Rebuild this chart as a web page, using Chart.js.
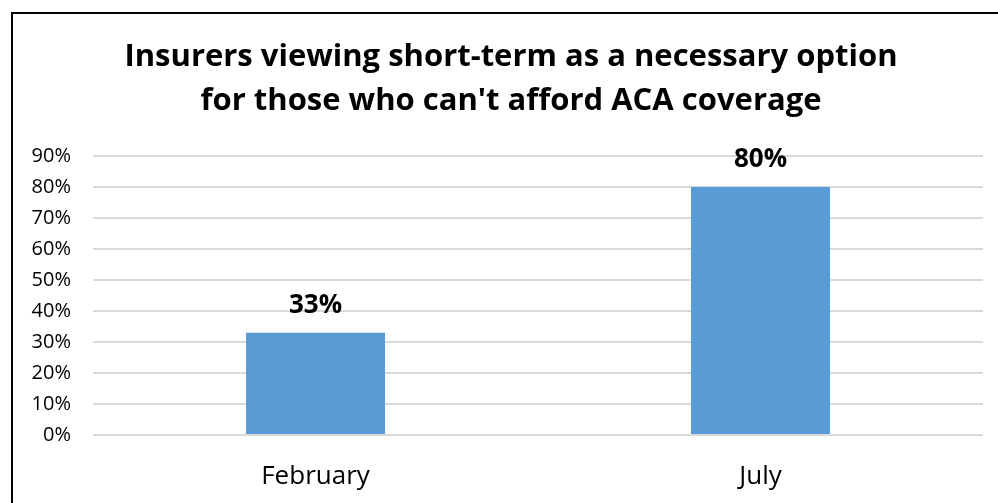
<!DOCTYPE html>
<html>
<head>
<meta charset="utf-8">
<script src="https://cdn.jsdelivr.net/npm/chart.js@4/dist/chart.umd.min.js"></script>
<style>
  html, body { margin: 0; padding: 0; background: #fff; overflow: hidden; }
  #wrap { position: relative; width: 998px; height: 503px; }
  #frame { position: absolute; left: 11px; top: 12px; width: 1100px; height: 600px; border: 2px solid #000; box-sizing: border-box; pointer-events: none; }
</style>
</head>
<body>
<div id="wrap">
  <canvas id="chart" width="998" height="503"></canvas>
  <div id="frame"></div>
</div>
<script>
// chart data
const months = ["February", "July"];
const shareNecessary = [0.33, 0.80];
const yTicks = [0, 0.1, 0.2, 0.3, 0.4, 0.5, 0.6, 0.7, 0.8, 0.9];
const titleLines = ["Insurers viewing short-term as a necessary option", "for those who can't afford ACA coverage"];

const FONT = "'Open Sans', 'Noto Sans', sans-serif";

// title centred on the framed box rather than the canvas
const frameTitle = {
  id: "frameTitle",
  afterDraw(chart) {
    const ctx = chart.ctx;
    ctx.save();
    ctx.font = "bold 31px " + FONT;
    ctx.fillStyle = "#000";
    ctx.textAlign = "center";
    ctx.textBaseline = "middle";
    titleLines.forEach((line, i) => ctx.fillText(line, 511, 57 + i * 44));
    ctx.restore();
  }
};

// draws the bold % labels above each bar
const barLabels = {
  id: "barLabels",
  afterDatasetsDraw(chart) {
    const ctx = chart.ctx;
    const meta = chart.getDatasetMeta(0);
    ctx.save();
    ctx.font = "bold 26px " + FONT;
    ctx.fillStyle = "#000";
    ctx.textAlign = "center";
    ctx.textBaseline = "alphabetic";
    meta.data.forEach((bar, i) => {
      ctx.fillText(Math.round(shareNecessary[i] * 100) + "%", bar.x, bar.y - 20);
    });
    ctx.restore();
  }
};

new Chart(document.getElementById("chart"), {
  type: "bar",
  data: {
    labels: months,
    datasets: [{
      data: shareNecessary,
      backgroundColor: "#5b9bd5",
      barPercentage: 0.3125,
      categoryPercentage: 1
    }]
  },
  options: {
    responsive: false,
    animation: false,
    layout: { padding: { top: 156, right: 15, left: 0, bottom: 0 } },
    plugins: {
      legend: { display: false },
      tooltip: { enabled: false },
      title: { display: false }
    },
    scales: {
      x: {
        grid: { display: false, drawTicks: false },
        border: { display: false },
        ticks: { color: "#000", font: { family: FONT, size: 26 }, padding: 26 },
        afterFit(s) { s.height = 68; }
      },
      y: {
        min: 0,
        max: 0.9,
        afterBuildTicks(s) { s.ticks = yTicks.map(v => ({ value: v })); },
        grid: { color: "#d9d9d9", lineWidth: 2, drawTicks: false },
        border: { display: false },
        ticks: {
          color: "#000",
          font: { family: FONT, size: 20 },
          padding: 22,
          callback: v => Math.round(v * 100) + "%"
        },
        afterFit(s) { s.width = 93; }
      }
    }
  },
  plugins: [barLabels, frameTitle]
});
</script>
</body>
</html>
